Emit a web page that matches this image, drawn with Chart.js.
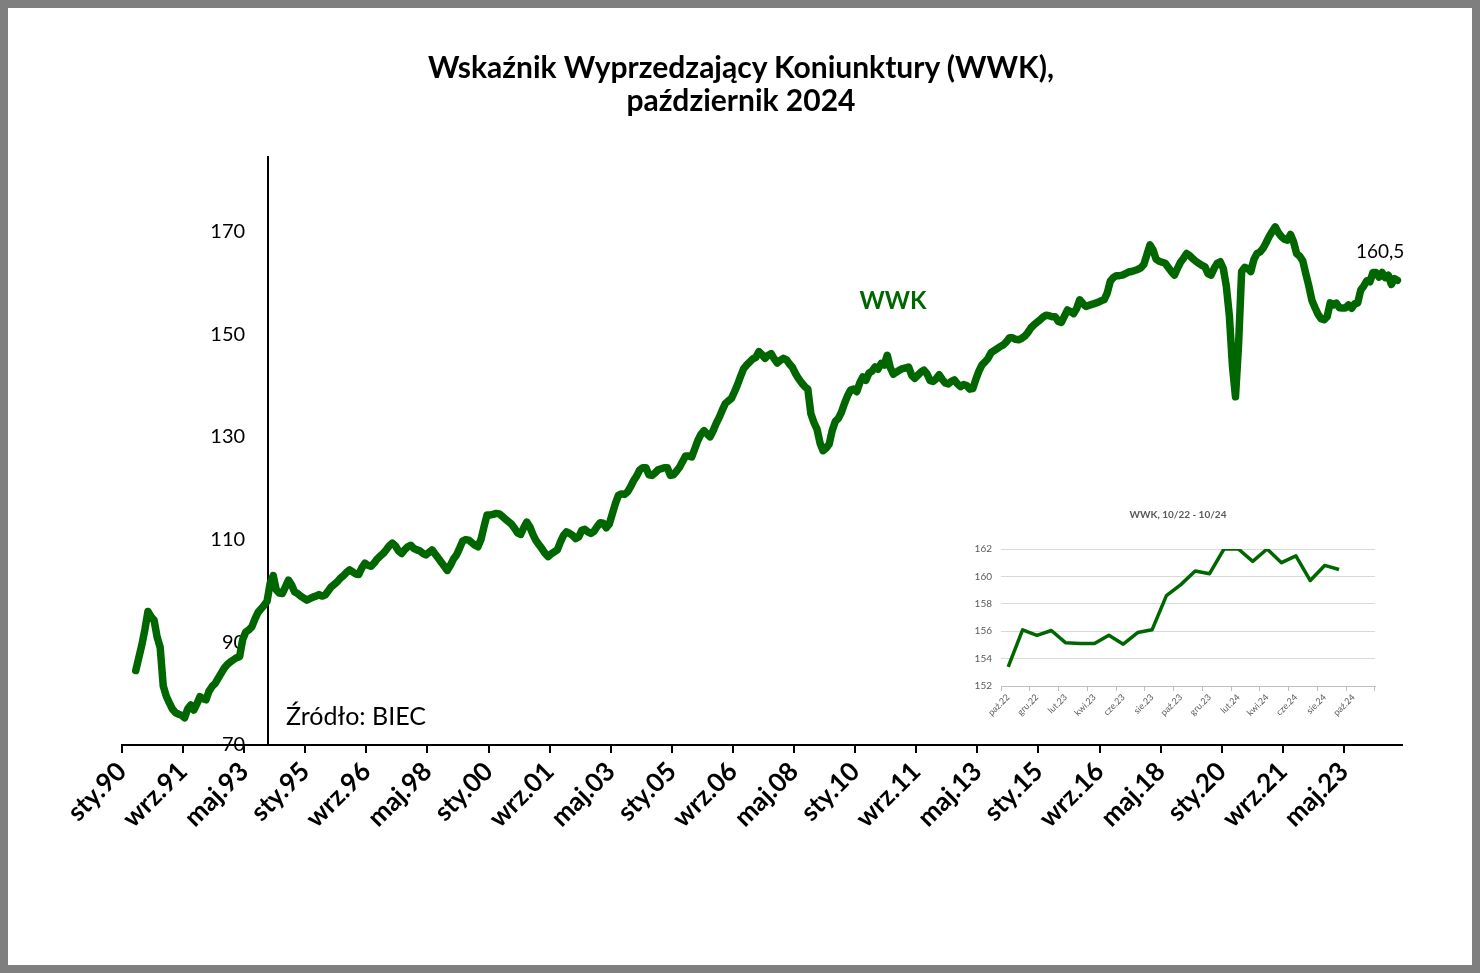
<!DOCTYPE html>
<html lang="pl">
<head>
<meta charset="utf-8">
<title>WWK – październik 2024</title>
<script src="https://cdn.jsdelivr.net/npm/chart.js@4.4.1/dist/chart.umd.min.js"></script>
<style>
  html, body { margin: 0; padding: 0; }
  body { width: 1480px; height: 973px; position: relative; overflow: hidden; background: #fff; font-family: Lato, "Open Sans", sans-serif; }
  #frame { position: absolute; left: 0; top: 0; width: 1480px; height: 973px; box-sizing: border-box; border: 8px solid #7f7f7f; }
  canvas { position: absolute; }
  #mainChart { left: 0; top: 0; }
  #insetChart { left: 961px; top: 500px; }
  .txt { position: absolute; white-space: nowrap; line-height: 1; }
  .title { left: 0; width: 1482px; text-align: center; font-size: 30px; font-weight: bold; color: #000; }
  #wwkLabel { left: 843px; width: 100px; text-align: center; top: 288px; font-size: 24px; font-weight: bold; color: #006600; }
  #lastValue { left: 1356px; top: 241px; font-size: 19px; color: #000; }
  #source { left: 286px; top: 703px; font-size: 25px; color: #000; }
  #insetTitle { left: 1078px; width: 200px; text-align: center; top: 509px; font-size: 10px; font-weight: bold; color: #595959; }
</style>
</head>
<body>
<div id="frame"></div>
<canvas id="mainChart" width="1480" height="973"></canvas>
<canvas id="insetChart" width="429" height="225"></canvas>
<div class="txt title" style="top:51px">Wskaźnik Wyprzedzający Koniunktury (WWK),</div>
<div class="txt title" style="top:84px">październik 2024</div>
<div class="txt" id="wwkLabel">WWK</div>
<div class="txt" id="lastValue">160,5</div>
<div class="txt" id="source">Źródło: BIEC</div>
<div class="txt" id="insetTitle">WWK, 10/22 - 10/24</div>
<script>
// WWK, dane miesięczne (odczyt z wykresu), sty.1990 - paź.2024
const wwk1990 = [null, null, null, null, 84.5, 87.0, 89.5, 92.5, 96.0, 95.0, 94.3, 91.0];
const wwk1991 = [89.0, 81.5, 79.5, 78.2, 77.0, 76.3, 76.0, 75.8, 75.3, 77.0, 77.8, 76.8];
const wwk1992 = [78.0, 79.4, 79.0, 78.8, 80.5, 81.4, 82.0, 83.0, 84.0, 85.0, 85.7, 86.2];
const wwk1993 = [86.6, 87.0, 87.2, 90.5, 92.0, 92.4, 93.0, 94.5, 95.8, 96.5, 97.2, 98.0];
const wwk1994 = [101.5, 103.0, 100.2, 99.6, 99.5, 100.8, 102.1, 101.2, 99.8, 99.5, 99.0, 98.6];
const wwk1995 = [98.2, 98.5, 98.8, 99.0, 99.3, 99.0, 99.2, 100.0, 100.8, 101.3, 101.8, 102.5];
const wwk1996 = [103.0, 103.6, 104.1, 103.7, 103.3, 103.2, 104.5, 105.4, 105.0, 104.8, 105.4, 106.2];
const wwk1997 = [106.8, 107.3, 108.0, 108.8, 109.3, 108.8, 107.8, 107.3, 108.0, 108.6, 108.9, 108.3];
const wwk1998 = [108.0, 107.8, 107.3, 107.0, 107.5, 108.0, 107.2, 106.4, 105.6, 104.8, 104.0, 105.0];
const wwk1999 = [106.2, 107.0, 108.3, 109.7, 110.0, 109.9, 109.4, 108.9, 108.6, 110.0, 112.5, 114.8];
const wwk2000 = [114.8, 114.9, 115.1, 115.0, 114.5, 114.0, 113.5, 113.0, 112.2, 111.3, 111.0, 112.3];
const wwk2001 = [113.4, 112.5, 111.0, 109.8, 109.0, 108.2, 107.3, 106.7, 107.2, 107.6, 108.0, 109.5];
const wwk2002 = [110.8, 111.5, 111.2, 110.8, 110.2, 110.5, 111.8, 112.0, 111.5, 111.2, 111.6, 112.5];
const wwk2003 = [113.3, 113.2, 112.3, 113.0, 115.0, 117.0, 118.6, 118.9, 118.8, 119.3, 120.3, 121.5];
const wwk2004 = [122.4, 123.6, 124.0, 124.0, 122.6, 122.5, 123.0, 123.6, 123.8, 124.0, 124.0, 122.5];
const wwk2005 = [122.6, 123.3, 124.1, 125.2, 126.3, 126.3, 126.1, 127.7, 129.3, 130.5, 131.2, 130.6];
const wwk2006 = [130.0, 131.2, 132.6, 133.8, 135.2, 136.5, 137.0, 137.5, 138.8, 140.2, 141.8, 143.3];
const wwk2007 = [144.0, 144.6, 145.2, 145.5, 146.6, 146.0, 145.3, 145.9, 146.2, 145.2, 144.4, 144.9];
const wwk2008 = [145.3, 145.0, 144.2, 143.5, 142.3, 141.3, 140.5, 139.8, 139.3, 134.5, 132.8, 131.5];
const wwk2009 = [128.8, 127.3, 127.8, 128.6, 131.3, 133.0, 133.6, 134.8, 136.5, 138.0, 139.1, 139.3];
const wwk2010 = [138.8, 140.5, 141.7, 141.0, 142.4, 142.8, 143.6, 143.2, 144.3, 144.0, 145.9, 143.5];
const wwk2011 = [142.2, 142.6, 143.0, 143.3, 143.4, 143.6, 142.0, 141.4, 142.0, 142.6, 143.0, 142.3];
const wwk2012 = [141.0, 140.8, 141.3, 142.1, 141.2, 140.5, 140.3, 140.8, 141.1, 140.3, 139.8, 140.2];
const wwk2013 = [140.0, 139.3, 139.4, 141.2, 142.8, 144.0, 144.6, 145.3, 146.4, 146.8, 147.2, 147.6];
const wwk2014 = [147.9, 148.5, 149.3, 149.3, 149.0, 148.9, 149.2, 149.6, 150.3, 151.2, 151.8, 152.3];
const wwk2015 = [152.8, 153.3, 153.7, 153.6, 153.4, 153.4, 152.5, 152.3, 153.5, 154.7, 154.4, 154.0];
const wwk2016 = [155.0, 156.7, 156.0, 155.4, 155.6, 155.8, 156.0, 156.2, 156.5, 156.7, 158.0, 160.3];
const wwk2017 = [161.0, 161.4, 161.4, 161.5, 161.8, 162.1, 162.2, 162.4, 162.6, 162.9, 163.6, 165.5];
const wwk2018 = [167.4, 166.4, 164.6, 164.2, 164.0, 163.8, 163.0, 162.2, 161.5, 162.8, 164.0, 164.8];
const wwk2019 = [165.7, 165.3, 164.7, 164.2, 163.8, 163.4, 163.1, 161.8, 161.5, 162.8, 163.8, 164.1];
const wwk2020 = [162.8, 159.3, 153.5, 143.8, 137.8, 148.0, 162.2, 163.0, 162.8, 162.2, 164.5, 165.7];
const wwk2021 = [166.0, 166.7, 167.8, 169.0, 170.0, 170.9, 169.8, 169.0, 168.5, 168.3, 169.4, 168.0];
const wwk2022 = [165.7, 165.2, 164.3, 161.8, 159.4, 156.6, 155.2, 153.9, 153.0, 152.8, 153.4, 156.1];
const wwk2023 = [155.7, 156.05, 155.15, 155.1, 155.1, 155.7, 155.05, 155.9, 156.1, 158.6, 159.4, 160.4];
const wwk2024 = [160.2, 162.0, 162.0, 161.1, 162.0, 161.0, 161.5, 159.7, 160.8, 160.5];

// etykiety osi X co 20 miesięcy
const xTickLabels = ['sty.90', 'wrz.91', 'maj.93', 'sty.95', 'wrz.96', 'maj.98', 'sty.00', 'wrz.01',
  'maj.03', 'sty.05', 'wrz.06', 'maj.08', 'sty.10', 'wrz.11', 'maj.13', 'sty.15', 'wrz.16',
  'maj.18', 'sty.20', 'wrz.21', 'maj.23'];
const xTickStep = 20;
const yTickValues = [70, 90, 110, 130, 150, 170];

// wykres wstawiony: WWK 10/22 - 10/24
const insetMonths = ['paź.22', 'lis.22', 'gru.22', 'sty.23', 'lut.23', 'mar.23', 'kwi.23', 'maj.23',
  'cze.23', 'lip.23', 'sie.23', 'wrz.23', 'paź.23', 'lis.23', 'gru.23', 'sty.24', 'lut.24', 'mar.24',
  'kwi.24', 'maj.24', 'cze.24', 'lip.24', 'sie.24', 'wrz.24', 'paź.24', 'lis.24'];
const insetValues = [153.4, 156.1, 155.7, 156.05, 155.15, 155.1, 155.1, 155.7, 155.05, 155.9, 156.1,
  158.6, 159.4, 160.4, 160.2, 162.0, 162.0, 161.1, 162.0, 161.0, 161.5, 159.7, 160.8, 160.5];
const insetYTicks = [152, 154, 156, 158, 160, 162];

const GREEN = '#006600';
const Y_MIN = 70, Y_MAX = 184.5;
const Y_AXIS_AT = 47.8;      // oś Y przecina oś X (w miesiącach od sty.90)
const Y_LABELS_AT = 40.3;    // etykiety osi Y nieco na lewo od osi
Chart.defaults.font.family = 'Lato, "Open Sans", sans-serif';
Chart.defaults.color = '#000';

const wwkMonthly = [].concat(wwk1990, wwk1991, wwk1992, wwk1993, wwk1994, wwk1995, wwk1996, wwk1997,
  wwk1998, wwk1999, wwk2000, wwk2001, wwk2002, wwk2003, wwk2004, wwk2005, wwk2006, wwk2007, wwk2008,
  wwk2009, wwk2010, wwk2011, wwk2012, wwk2013, wwk2014, wwk2015, wwk2016, wwk2017, wwk2018, wwk2019,
  wwk2020, wwk2021, wwk2022, wwk2023, wwk2024);

// punkt w środku miesiąca
const mainPoints = wwkMonthly.map((v, i) => ({ x: i + 0.5, y: v }));

new Chart(document.getElementById('mainChart'), {
  type: 'line',
  data: {
    datasets: [{
      label: 'WWK',
      data: mainPoints,
      borderColor: GREEN,
      borderWidth: 7.5,
      pointRadius: 0,
      tension: 0,
      borderJoinStyle: 'round',
      borderCapStyle: 'round',
      spanGaps: false
    }]
  },
  options: {
    responsive: false,
    animation: false,
    layout: { padding: { left: 122, right: 78, top: 157, bottom: 138 } },
    plugins: { legend: { display: false }, tooltip: { enabled: false } },
    scales: {
      x: {
        type: 'linear',
        min: 0,
        max: 419,
        afterBuildTicks: s => { s.ticks = xTickLabels.map((t, k) => ({ value: k * xTickStep })); },
        afterFit: s => { s.height = 90; },
        ticks: {
          autoSkip: false,
          minRotation: 45,
          maxRotation: 45,
          padding: 3,
          font: { size: 26, weight: 'bold' },
          callback: (v, k) => xTickLabels[k]
        },
        grid: { drawOnChartArea: false, drawTicks: true, tickLength: 8, color: '#000', lineWidth: 2 },
        border: { display: true, color: '#000', width: 2 }
      },
      y: {
        type: 'linear',
        min: Y_MIN,
        max: Y_MAX,
        position: { x: Y_AXIS_AT },
        ticks: { display: false },
        grid: { drawOnChartArea: false, drawTicks: false },
        border: { display: true, color: '#000', width: 2 }
      },
      yLabels: {
        type: 'linear',
        axis: 'y',
        min: Y_MIN,
        max: Y_MAX,
        position: { x: Y_LABELS_AT },
        afterBuildTicks: s => { s.ticks = yTickValues.map(v => ({ value: v })); },
        ticks: { font: { size: 20 } },
        grid: { display: false },
        border: { display: false }
      }
    }
  }
});

new Chart(document.getElementById('insetChart'), {
  type: 'line',
  data: {
    labels: insetMonths,
    datasets: [{
      label: 'WWK',
      data: insetValues,
      borderColor: GREEN,
      borderWidth: 3.5,
      pointRadius: 0,
      tension: 0,
      borderJoinStyle: 'round'
    }]
  },
  options: {
    responsive: false,
    animation: false,
    layout: { padding: { left: 0, right: 15, top: 49, bottom: 0 } },
    plugins: { legend: { display: false }, tooltip: { enabled: false } },
    scales: {
      x: {
        offset: true,
        afterFit: s => { s.height = 39; },
        ticks: {
          autoSkip: false,
          minRotation: 45,
          maxRotation: 45,
          padding: 1,
          color: '#595959',
          font: { size: 9 },
          callback: (v, k) => (k % 2 ? '' : insetMonths[k])
        },
        grid: {
          offset: true,
          drawOnChartArea: false,
          tickLength: 5,
          color: c => (c.index % 2 === 1 ? 'rgba(0,0,0,0)' : '#bfbfbf')
        },
        border: { display: true, color: '#bfbfbf', width: 1 }
      },
      y: {
        min: 152,
        max: 162,
        afterBuildTicks: s => { s.ticks = insetYTicks.map(v => ({ value: v })); },
        afterFit: s => { s.width = 40; },
        ticks: { color: '#595959', font: { size: 10 }, padding: 9 },
        grid: { color: '#d9d9d9', drawTicks: false },
        border: { display: false }
      }
    }
  }
});
</script>
</body>
</html>
